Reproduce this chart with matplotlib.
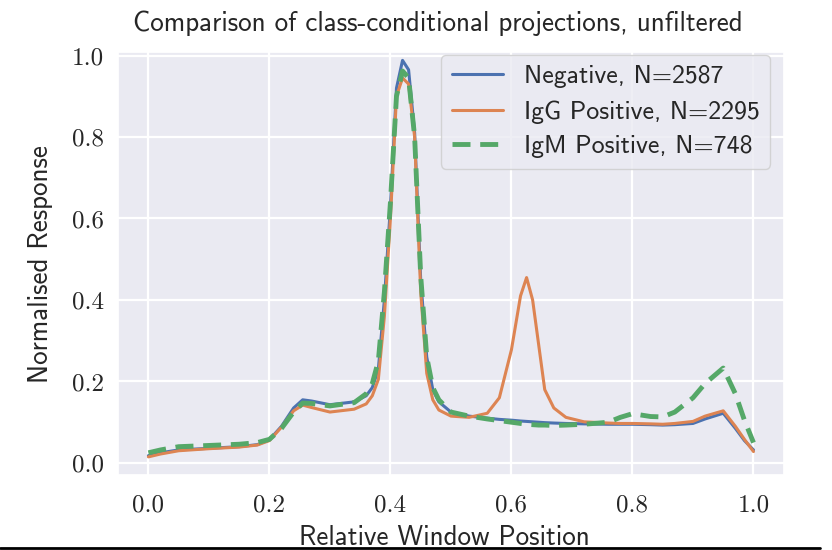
import matplotlib
matplotlib.use("Agg")
import matplotlib.pyplot as plt
import seaborn as sns
from matplotlib.lines import Line2D

# relative window position (shared x grid)
position = [0.00, 0.02, 0.05, 0.10, 0.15, 0.18, 0.20, 0.22, 0.24, 0.255,
            0.27, 0.30, 0.34, 0.36, 0.37, 0.38, 0.39, 0.40, 0.41, 0.42,
            0.43, 0.44, 0.45, 0.46, 0.47, 0.48, 0.50, 0.53, 0.56, 0.58,
            0.60, 0.615, 0.625, 0.635, 0.645, 0.655, 0.67, 0.69, 0.72, 0.76,
            0.78, 0.80, 0.83, 0.85, 0.87, 0.90, 0.92, 0.95, 0.97, 0.985, 1.00]

negative = [0.018, 0.025, 0.032, 0.036, 0.040, 0.045, 0.057, 0.090, 0.135, 0.155,
            0.152, 0.143, 0.150, 0.165, 0.185, 0.230, 0.400, 0.630, 0.920, 0.988,
            0.965, 0.810, 0.450, 0.260, 0.180, 0.150, 0.125, 0.115, 0.110, 0.107,
            0.105, 0.103, 0.102, 0.101, 0.100, 0.099, 0.098, 0.097, 0.096, 0.095,
            0.095, 0.095, 0.094, 0.093, 0.094, 0.097, 0.108, 0.122, 0.085, 0.055, 0.032]

igg_pos = [0.015, 0.022, 0.030, 0.035, 0.039, 0.044, 0.055, 0.088, 0.128, 0.142,
           0.136, 0.125, 0.132, 0.145, 0.165, 0.205, 0.360, 0.600, 0.900, 0.945,
           0.930, 0.800, 0.420, 0.220, 0.155, 0.130, 0.115, 0.112, 0.122, 0.160,
           0.278, 0.410, 0.455, 0.400, 0.290, 0.180, 0.135, 0.112, 0.101, 0.098,
           0.097, 0.097, 0.096, 0.095, 0.097, 0.102, 0.115, 0.128, 0.090, 0.058, 0.028]

igm_pos = [0.025, 0.032, 0.040, 0.043, 0.046, 0.050, 0.058, 0.085, 0.125, 0.147,
           0.146, 0.140, 0.148, 0.170, 0.195, 0.250, 0.420, 0.640, 0.900, 0.962,
           0.945, 0.800, 0.460, 0.260, 0.185, 0.155, 0.125, 0.115, 0.108, 0.104,
           0.100, 0.097, 0.095, 0.094, 0.093, 0.093, 0.092, 0.093, 0.095, 0.100,
           0.112, 0.121, 0.114, 0.113, 0.125, 0.160, 0.195, 0.233, 0.170, 0.105, 0.050]

labels = ["Negative, N=2587", "IgG Positive, N=2295", "IgM Positive, N=748"]

sns.set_theme(style="darkgrid")
plt.rcParams["axes.unicode_minus"] = False

fig = plt.figure(figsize=(8.32, 5.5), dpi=100)
ax = fig.add_axes([0.142, 0.136, 0.800, 0.769])

pal = sns.color_palette("deep")
ax.plot(position, negative, color=pal[0], lw=2.2, label=labels[0])
ax.plot(position, igg_pos, color=pal[1], lw=2.2, label=labels[1])
ax.plot(position, igm_pos, color=pal[2], lw=3.5, ls=(0, (3.7, 2)), label=labels[2])

ax.set_xlim(-0.05, 1.05)
ax.set_ylim(-0.03, 1.008)
ax.set_xticks([0.0, 0.2, 0.4, 0.6, 0.8, 1.0])
ax.set_yticks([0.0, 0.2, 0.4, 0.6, 0.8, 1.0])
ax.grid(color="white", lw=1.6)

for t in ax.get_xticklabels() + ax.get_yticklabels():
    t.set_fontfamily("cmr10")
    t.set_fontsize(18)
ax.tick_params(axis="x", pad=8)
ax.tick_params(axis="y", pad=4)

ax.set_title("Comparison of class-conditional projections, unfiltered",
             fontfamily="cmss10", fontsize=19.5, pad=15, x=0.481)
ax.set_xlabel("Relative Window Position", fontfamily="cmss10", fontsize=19.5,
              labelpad=6, x=0.49)
ax.set_ylabel("Normalised Response", fontfamily="cmss10", fontsize=19.5, labelpad=14)

leg = ax.legend(loc="upper right", bbox_to_anchor=(770 / 832, 1 - 55 / 550),
                bbox_transform=fig.transFigure, borderaxespad=0,
                prop={"family": "cmss10", "size": 18.6}, handlelength=2.0,
                labelspacing=0.45, frameon=True, fancybox=True)
leg.get_frame().set_edgecolor("0.8")

# thin black rule along the bottom edge
fig.add_artist(Line2D([0.0, 0.985], [0.004, 0.004], color="black", lw=2.0,
                      transform=fig.transFigure))

fig.savefig("out.png", dpi=100)
